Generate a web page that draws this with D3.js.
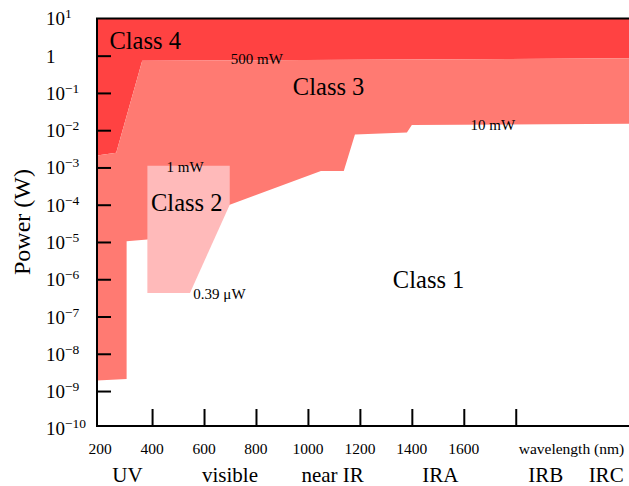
<!DOCTYPE html>
<html lang="en">
<head>
<meta charset="utf-8">
<title>Laser classes</title>
<script src="https://cdn.jsdelivr.net/npm/d3@7"></script>
<style>
  body { margin: 0; background: #fff; }
  text { font-family: "Liberation Serif", "Times New Roman", serif; fill: #000; }
</style>
</head>
<body>
<script>
// wavelength (nm) vs. power (W) limits
var class3Upper = [[188, 2.1e-3], [262, 2.5e-3], [362, 0.73], [2236, 0.85]];
var class3Lower = [[188, 1.93e-9], [302, 2.1e-9], [302, 1.04e-5], [382, 1.16e-5],
                   [699, 1e-4], [1050, 8e-4], [1138, 8e-4], [1181, 7.65e-3],
                   [1381, 8.65e-3], [1400, 1.37e-2], [2236, 1.5e-2]];
var class2 = [[382, 1.11e-3], [699, 1.11e-3], [699, 1e-4], [546, 4.3e-7], [382, 4.3e-7]];
var topEdge = [[188, 10], [2236, 10]];

var xTickMarks = [400, 600, 800, 1000, 1200, 1400, 1600, 1800];
var xTickLabels = [200, 400, 600, 800, 1000, 1200, 1400, 1600];
var yTickMarks = [1, 1e-1, 1e-2, 1e-3, 1e-4, 1e-5, 1e-6, 1e-7, 1e-8, 1e-9];
var yExponents = [1, 0, -1, -2, -3, -4, -5, -6, -7, -8, -9, -10];

var bands = ["UV", "visible", "near IR", "IRA", "IRB", "IRC"];
var bandPos = [305, 700, 1095, 1510, 1916, 2148];

var classLabels = [
  {t: "Class 4", x: 236, p: 1.5},
  {t: "Class 3", x: 942, p: 0.0885},
  {t: "Class 2", x: 396, p: 6.6e-5},
  {t: "Class 1", x: 1327, p: 5.9e-7}
];
var limitLabels = [
  {t: "500 mW", x: 703, p: 0.6},
  {t: "1 mW", x: 456, p: 7.5e-4},
  {t: "10 mW", x: 1626, p: 0.01},
  {t: "0.39 \u03bcW", x: 559, p: 2.98e-7}
];

var w = 629, h = 486;
var padL = 97, padR = 629, padT = 18.4, padB = 428.3, axisY = 426;

var svg = d3.select("body").append("svg")
  .attr("width", w).attr("height", h);

var x = d3.scaleLinear().domain([188, 2236]).range([padL, padR]);
var y = d3.scaleLog().domain([1e-10, 10]).range([padB, padT]);

var area = d3.line()
  .x(function(d) { return x(d[0]); })
  .y(function(d) { return y(d[1]); });

// class 4 = everything above class 3
svg.append("path")
  .attr("d", area(topEdge.concat(class3Upper.slice().reverse())) + "Z")
  .attr("fill", "#ff4242");

svg.append("path")
  .attr("d", area(class3Upper.concat(class3Lower.slice().reverse())) + "Z")
  .attr("fill", "#ff7a72");

svg.append("path")
  .attr("d", area(class2) + "Z")
  .attr("fill", "#ffbaba");

// ticks (inward)
var xAxis = svg.append("g")
  .attr("transform", "translate(0," + axisY + ")")
  .call(d3.axisBottom(x).tickValues(xTickMarks).tickSize(-17).tickFormat(""));
var yAxis = svg.append("g")
  .attr("transform", "translate(" + padL + ",0)")
  .call(d3.axisLeft(y).tickValues(yTickMarks).tickSize(-14).tickFormat(""));
[xAxis, yAxis].forEach(function(g) {
  g.select(".domain").remove();
  g.selectAll(".tick line").attr("stroke", "#000").attr("stroke-width", 2);
});

// frame
svg.append("path")
  .attr("d", "M" + padR + "," + padT + "H" + padL + "V" + axisY + "H" + padR)
  .attr("fill", "none").attr("stroke", "#000").attr("stroke-width", 2);

// x labels
svg.selectAll(".xl").data(xTickLabels).enter().append("text")
  .attr("x", function(d) { return x(d); })
  .attr("y", 454)
  .attr("text-anchor", "middle")
  .attr("font-size", "15.5px")
  .text(function(d) { return d; });

svg.append("text")
  .attr("x", x(1800) + 3).attr("y", 454)
  .attr("font-size", "15.5px")
  .text("wavelength (nm)");

svg.selectAll(".band").data(bands).enter().append("text")
  .attr("x", function(d, i) { return x(bandPos[i]); })
  .attr("y", 482)
  .attr("text-anchor", "middle")
  .attr("font-size", "21px")
  .text(function(d) { return d; });

// y labels
var yl = svg.selectAll(".yl").data(yExponents).enter().append("text")
  .attr("x", 46)
  .attr("y", function(d) { return y(Math.pow(10, d)) + 7; })
  .attr("font-size", "19px");
yl.each(function(d) {
  var t = d3.select(this);
  if (d === 0) { t.text("1"); return; }
  t.append("tspan").text("10");
  t.append("tspan").attr("dy", -7).attr("font-size", "13.5px")
    .text(d < 0 ? "\u2212" + (-d) : d);
});

svg.append("text")
  .attr("transform", "translate(30," + 222 + ") rotate(-90)")
  .attr("text-anchor", "middle")
  .attr("font-size", "24px")
  .text("Power (W)");

svg.selectAll(".cl").data(classLabels).enter().append("text")
  .attr("x", function(d) { return x(d.x); })
  .attr("y", function(d) { return y(d.p); })
  .attr("font-size", "24.5px")
  .text(function(d) { return d.t; });

svg.selectAll(".ll").data(limitLabels).enter().append("text")
  .attr("x", function(d) { return x(d.x); })
  .attr("y", function(d) { return y(d.p); })
  .attr("font-size", "15px")
  .text(function(d) { return d.t; });
</script>
</body>
</html>
